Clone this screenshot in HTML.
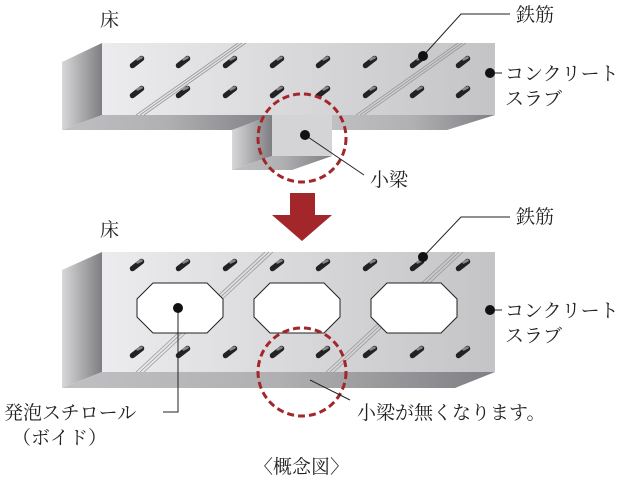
<!DOCTYPE html><html><head><meta charset="utf-8"><style>body{margin:0;background:#fff}svg{display:block}text{font-family:"Liberation Serif","Noto Serif CJK SC",serif;fill:#222}</style></head><body>
<svg width="637" height="480" viewBox="0 0 637 480">
<defs>
<linearGradient id="fr" x1="0" x2="1"><stop offset="0" stop-color="#ececee"/><stop offset="1" stop-color="#c4c4c7"/></linearGradient>
<linearGradient id="sd" x1="0" x2="1"><stop offset="0" stop-color="#d8d8da"/><stop offset="1" stop-color="#7e7e82"/></linearGradient>
<linearGradient id="bt" x1="0" x2="1"><stop offset="0" stop-color="#c0c0c3"/><stop offset="0.5" stop-color="#b0b0b3"/><stop offset="1" stop-color="#808084"/></linearGradient>
<g id="hole"><line x1="-4.5" y1="3.5" x2="4.5" y2="-3.5" stroke="#222" stroke-width="5.5" stroke-linecap="round"/><line x1="0.5" y1="-2.5" x2="4.5" y2="-4.5" stroke="#888" stroke-width="2.5" stroke-linecap="round"/></g>
</defs>
<polygon points="232,130 272,115 272,156 232,170" fill="url(#sd)"/>
<polygon points="272,156 332,156 292,170 232,170" fill="url(#bt)"/>
<rect x="272" y="115" width="60" height="41" fill="#d4d4d6"/>
<polygon points="62,62 102,43 102,115 62,130" fill="url(#sd)"/>
<polygon points="102,115 272,115 232,130 62,130" fill="url(#bt)"/>
<polygon points="332,115 495,115 447,130 332,130" fill="url(#bt)"/>
<rect x="102" y="43" width="393" height="72" fill="url(#fr)"/>
<g stroke="#999" stroke-width="0.8" fill="none">
<path d="M136,115 L238,43 M140,115 L242,43 M144,115 L246,43"/>
<path d="M356,115 L458,43 M360,115 L462,43 M364,115 L466,43"/>
</g>
<g>
<use href="#hole" x="137" y="62"/><use href="#hole" x="183" y="62"/><use href="#hole" x="230" y="62"/><use href="#hole" x="277" y="62"/><use href="#hole" x="323" y="62"/><use href="#hole" x="370" y="62"/><use href="#hole" x="417" y="62"/><use href="#hole" x="463" y="62"/>
<use href="#hole" x="137" y="92"/><use href="#hole" x="183" y="92"/><use href="#hole" x="230" y="92"/><use href="#hole" x="277" y="92"/><use href="#hole" x="323" y="92"/><use href="#hole" x="370" y="92"/><use href="#hole" x="417" y="92"/><use href="#hole" x="463" y="92"/>
</g>
<circle cx="302" cy="138" r="44" fill="none" stroke="#a3262a" stroke-width="3" stroke-dasharray="7,4"/>
<polygon points="290,193 315,193 315,215 332,215 302,241 272,215 290,215" fill="#a3262a"/>
<polygon points="62,270 102,252 102,372 62,388" fill="url(#sd)"/>
<polygon points="102,372 495,372 455,388 62,388" fill="url(#bt)"/>
<rect x="102" y="252" width="393" height="120" fill="url(#fr)"/>
<g stroke="#999" stroke-width="0.8" fill="none">
<path d="M136,372 L265,252 M140,372 L269,252 M144,372 L273,252"/>
<path d="M326,372 L455,252 M330,372 L459,252 M334,372 L463,252"/>
</g>
<g>
<use href="#hole" x="137" y="265"/><use href="#hole" x="183" y="265"/><use href="#hole" x="230" y="265"/><use href="#hole" x="277" y="265"/><use href="#hole" x="323" y="265"/><use href="#hole" x="370" y="265"/><use href="#hole" x="417" y="265"/><use href="#hole" x="463" y="265"/>
<use href="#hole" x="137" y="352"/><use href="#hole" x="183" y="352"/><use href="#hole" x="230" y="352"/><use href="#hole" x="277" y="352"/><use href="#hole" x="323" y="352"/><use href="#hole" x="370" y="352"/><use href="#hole" x="417" y="352"/><use href="#hole" x="463" y="352"/>
</g>
<g fill="#fff" stroke="#222" stroke-width="1">
<polygon points="153,283 207,283 223,299 223,317 207,333 153,333 137,317 137,299"/>
<polygon points="270,283 324,283 340,299 340,317 324,333 270,333 254,317 254,299"/>
<polygon points="387,283 441,283 457,299 457,317 441,333 387,333 371,317 371,299"/>
</g>
<circle cx="302" cy="372" r="44" fill="none" stroke="#a3262a" stroke-width="3" stroke-dasharray="7,4"/>
<g stroke="#222" stroke-width="1" fill="none">
<path d="M423,56 L461,14 L510,14"/>
<path d="M423,257 L461,217 L510,217"/>
<path d="M490,73 L502,73"/>
<path d="M490,310 L502,310"/>
<path d="M305,135 L364,175"/>
<path d="M178,308 L178,412 L163,412"/>
<path d="M310,380 L350,400"/>
</g>
<g fill="#111">
<circle cx="423" cy="56" r="5"/><circle cx="423" cy="257" r="5"/><circle cx="490" cy="73" r="5"/><circle cx="490" cy="310" r="5"/><circle cx="305" cy="135" r="5"/><circle cx="178" cy="308" r="5"/>
</g>
<g font-size="19">
<text x="100" y="26">床</text>
<text x="100" y="236">床</text>
<text x="516" y="21">鉄筋</text>
<text x="516" y="223">鉄筋</text>
<text x="505" y="80">コンクリート</text>
<text x="505" y="105">スラブ</text>
<text x="505" y="317">コンクリート</text>
<text x="505" y="342">スラブ</text>
<text x="370" y="186">小梁</text>
<text x="4" y="419">発泡スチロール</text>
<text x="12" y="444">（ボイド）</text>
<text x="357" y="419">小梁が無くなります。</text>
<text x="254" y="473">〈概念図〉</text>
</g>
</svg>
</body></html>
